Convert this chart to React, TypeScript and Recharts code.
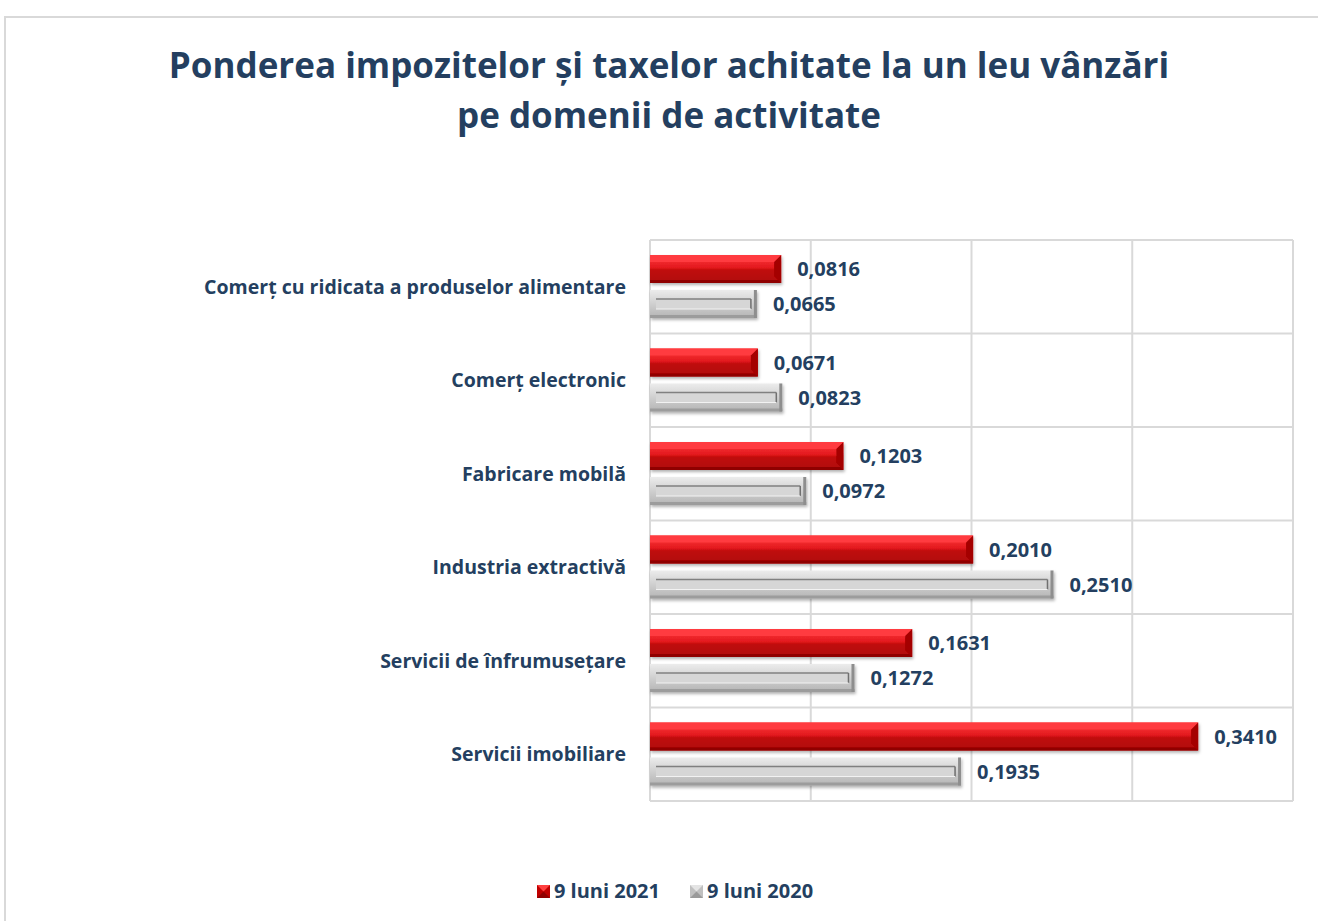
import {
  Bar,
  BarChart,
  CartesianGrid,
  LabelList,
  XAxis,
  YAxis,
} from "recharts";

const categories = [
  "Comerț cu ridicata a produselor alimentare",
  "Comerț electronic",
  "Fabricare mobilă",
  "Industria extractivă",
  "Servicii de înfrumusețare",
  "Servicii imobiliare",
];
const values2021 = [0.0816, 0.0671, 0.1203, 0.201, 0.1631, 0.341];
const values2020 = [0.0665, 0.0823, 0.0972, 0.251, 0.1272, 0.1935];
const xTicks = [0, 0.1, 0.2, 0.3, 0.4];
const seriesNames = ["9 luni 2021", "9 luni 2020"];

const data = categories.map((name, i) => ({
  name,
  y2021: values2021[i],
  y2020: values2020[i],
}));

const textColor = "#243f60";
const font = "'Open Sans', Lato, sans-serif";

const fmt = (v: number) => v.toFixed(4).replace(".", ",");

function RedBar(props: any) {
  const { x, y, width, height } = props;
  if (!width || width <= 0) return null;
  const b = 7;
  return (
    <g filter="url(#shadow)">
      <rect x={x} y={y} width={width} height={height} fill="url(#redGrad)" />
      <polygon
        points={`${x},${y} ${x + width},${y} ${x + width - b},${y + b} ${x},${y + b}`}
        fill="#ff3b3f"
      />
      <polygon
        points={`${x + width - b},${y + b} ${x + width},${y} ${x + width},${y + height} ${x + width - b},${y + height - b}`}
        fill="#a40000"
      />
      <polygon
        points={`${x},${y + height - 3} ${x + width - 3},${y + height - 3} ${x + width},${y + height} ${x},${y + height}`}
        fill="#8f0000"
      />
    </g>
  );
}

function GrayBar(props: any) {
  const { x, y, width, height } = props;
  if (!width || width <= 0) return null;
  const bx = 6;
  const by = 9;
  return (
    <g filter="url(#shadow)">
      <rect x={x} y={y} width={width} height={height} fill="url(#grayGrad)" />
      <rect x={x} y={y + height - 3} width={width} height={3} fill="#9c9c9c" />
      <rect x={x + width - 3} y={y} width={3} height={height} fill="#8e8e8e" />
      <rect
        x={x + bx}
        y={y + by}
        width={Math.max(0, width - 2 * bx)}
        height={height - 2 * by}
        fill="#d6d6d6"
      />
      <line
        x1={x + bx}
        y1={y + by}
        x2={x + width - bx}
        y2={y + by}
        stroke="#808080"
        strokeWidth={1.5}
      />
      <line
        x1={x + width - bx}
        y1={y + by}
        x2={x + width - bx}
        y2={y + height - by}
        stroke="#6f6f6f"
        strokeWidth={1.5}
      />
      <line
        x1={x + bx}
        y1={y + height - by}
        x2={x + width - bx}
        y2={y + height - by}
        stroke="#f2f2f2"
        strokeWidth={1}
      />
    </g>
  );
}

function LegendBox() {
  return (
    <div
      style={{
        position: "absolute",
        left: 16,
        top: 877,
        width: 1318,
        display: "flex",
        justifyContent: "center",
        gap: 30,
        fontFamily: font,
        fontWeight: 700,
        fontSize: 20,
        lineHeight: "28px",
        color: textColor,
      }}
    >
      {seriesNames.map((n, i) => (
        <span key={n} style={{ display: "inline-flex", alignItems: "center", gap: 4 }}>
          <svg width={13} height={13}>
            <rect x={0} y={0} width={13} height={13} fill={i === 0 ? "#c00000" : "#c0c0c0"} />
            <polygon points="0,0 13,0 6.5,6.5" fill={i === 0 ? "#ff4040" : "#e4e4e4"} />
            <polygon points="0,13 13,13 6.5,6.5" fill={i === 0 ? "#900000" : "#9a9a9a"} />
          </svg>
          {n}
        </span>
      ))}
    </div>
  );
}

export default function App() {
  return (
    <div
      style={{
        position: "absolute",
        left: 0,
        top: 0,
        width: 1318,
        height: 921,
        background: "#fff",
        overflow: "hidden",
      }}
    >
      <div
        style={{
          position: "absolute",
          left: 4,
          top: 16,
          width: 1330,
          height: 920,
          border: "2px solid #d9d9d9",
        }}
      />
      <div
        style={{
          position: "absolute",
          left: 0,
          top: 40,
          width: 1338,
          textAlign: "center",
          fontFamily: font,
          fontWeight: 700,
          fontSize: 35,
          lineHeight: "50px",
          color: textColor,
        }}
      >
        Ponderea impozitelor și taxelor achitate la un leu vânzări
        <br />
        pe domenii de activitate
      </div>
      <div style={{ position: "absolute", left: 0, top: 0 }}>
        <BarChart
          width={1318}
          height={921}
          data={data}
          layout="vertical"
          margin={{ top: 240, right: 25, bottom: 120, left: 0 }}
          barSize={28}
          barGap={7}
        >
          <defs>
            <linearGradient id="redGrad" x1="0" y1="0" x2="0" y2="1">
              <stop offset="0%" stopColor="#ff3b3f" />
              <stop offset="45%" stopColor="#e3191e" />
              <stop offset="55%" stopColor="#bf0a0a" />
              <stop offset="100%" stopColor="#b00808" />
            </linearGradient>
            <linearGradient id="grayGrad" x1="0" y1="0" x2="0" y2="1">
              <stop offset="0%" stopColor="#ececec" />
              <stop offset="50%" stopColor="#cfcfcf" />
              <stop offset="100%" stopColor="#b4b4b4" />
            </linearGradient>
            <filter id="shadow" x="-5%" y="-30%" width="110%" height="170%">
              <feDropShadow dx="1" dy="2" stdDeviation="1.5" floodColor="#000" floodOpacity="0.3" />
            </filter>
          </defs>
          <CartesianGrid
            stroke="#d9d9d9"
            strokeWidth={2}
            horizontalCoordinatesGenerator={({ offset }: any) =>
              categories
                .map((_, i) => offset.top + (i * offset.height) / categories.length)
                .concat(offset.top + offset.height)
            }
          />
          <XAxis type="number" domain={[0, 0.4]} ticks={xTicks} hide />
          <YAxis
            type="category"
            dataKey="name"
            width={650}
            axisLine={false}
            tickLine={false}
            tickSize={0}
            tickMargin={24}
            tick={{
              fill: textColor,
              fontFamily: font,
              fontWeight: 700,
              fontSize: 19.5,
            }}
          />
          <Bar
            dataKey="y2021"
            name={seriesNames[0]}
            shape={<RedBar />}
            isAnimationActive={false}
          >
            <LabelList
              dataKey="y2021"
              position="right"
              offset={16}
              formatter={(v: any) => fmt(Number(v))}
              style={{ fill: textColor, fontFamily: font, fontWeight: 700, fontSize: 20 }}
            />
          </Bar>
          <Bar
            dataKey="y2020"
            name={seriesNames[1]}
            shape={<GrayBar />}
            isAnimationActive={false}
          >
            <LabelList
              dataKey="y2020"
              position="right"
              offset={16}
              formatter={(v: any) => fmt(Number(v))}
              style={{ fill: textColor, fontFamily: font, fontWeight: 700, fontSize: 20 }}
            />
          </Bar>
        </BarChart>
      </div>
      <LegendBox />
    </div>
  );
}
